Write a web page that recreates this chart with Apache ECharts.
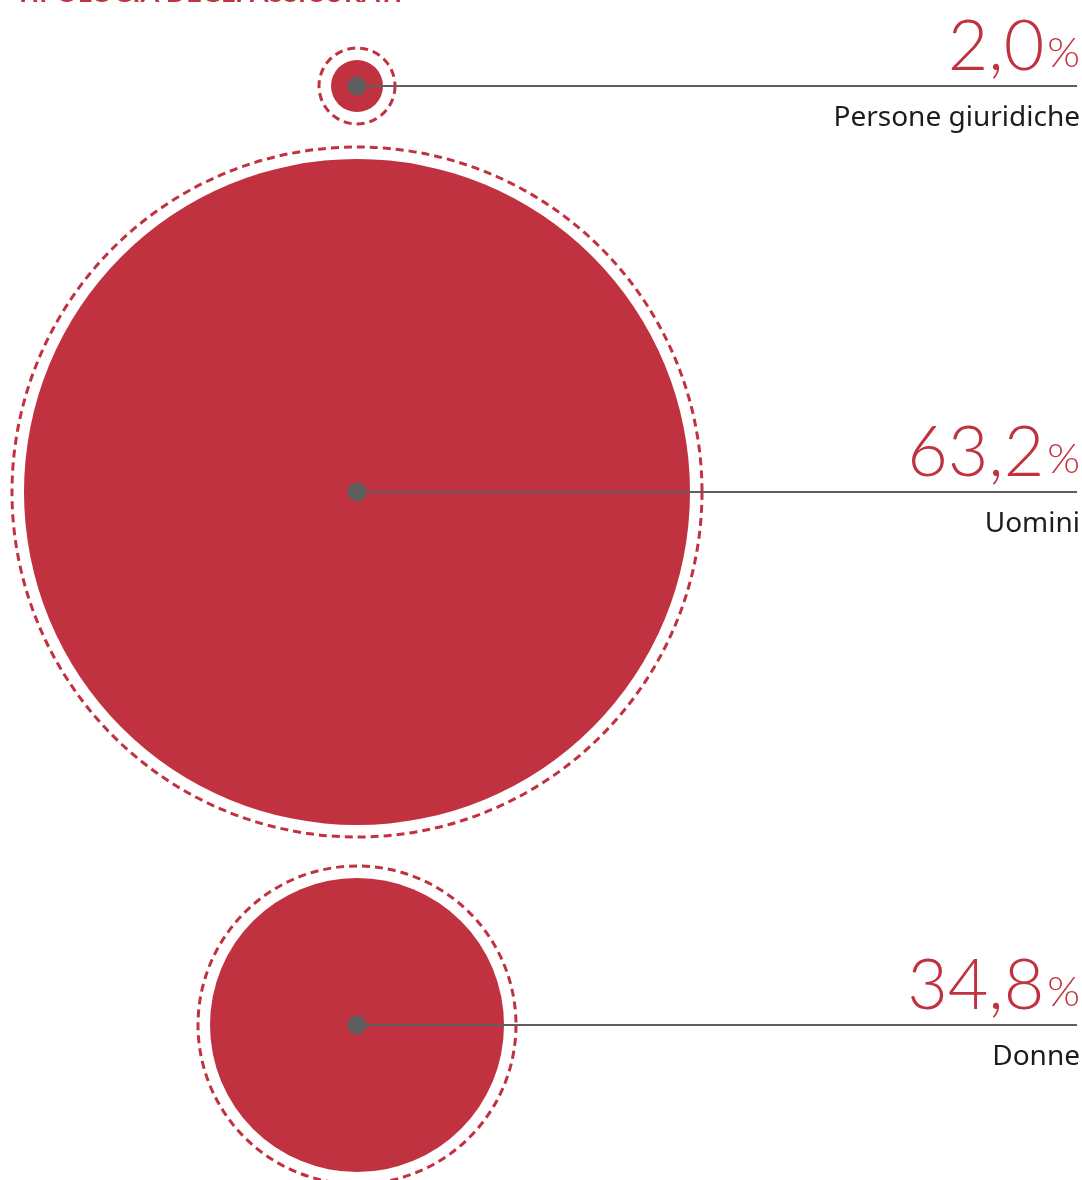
<!DOCTYPE html>
<html><head><meta charset="utf-8">
<script src="https://cdn.jsdelivr.net/npm/echarts@6/dist/echarts.min.js"></script>
<style>html,body{margin:0;padding:0;background:#fff}#c{width:1082px;height:1180px}</style>
</head><body><div id="c"></div>
<script>
// ---- data ----
const categories = ['Persone giuridiche', 'Uomini', 'Donne'];
const values = [2.0, 63.2, 34.8];
const titleText = 'TIPOLOGIA DEGLI ASSICURATI';

// ---- layout (design, not data) ----
const RED = '#C0323F', GREY = '#5f5f5f';
const fillRadius = [26, 333, 147];     // bubble radii as designed
const ringGap = 12;                      // dashed ring offset
const stackGap = [0, 23, 29];            // vertical gaps between rings
const topStart = 48;
const centerX = 357;
const lineEnd = 1077;

const centersY = [];
let cursor = topStart;
fillRadius.forEach((r, i) => {
  cursor += stackGap[i];
  const R = r + ringGap;
  centersY.push(cursor + R);
  cursor += 2 * R;
});

const pts = values.map((v, i) => ({ value: [centerX, centersY[i], v], name: categories[i] }));

const chart = echarts.init(document.getElementById('c'));
chart.setOption({
  animation: false,
  grid: { left: 0, right: 0, top: 0, bottom: 0 },
  xAxis: { type: 'value', min: 0, max: 1082, show: false },
  yAxis: { type: 'value', min: 0, max: 1180, inverse: true, show: false },
  series: [
    { type: 'scatter', silent: true, z: 1,
      data: pts.map((p, i) => ({ value: p.value, symbolSize: 2 * (fillRadius[i] + ringGap) })),
      itemStyle: { color: 'rgba(0,0,0,0)', borderColor: RED, borderWidth: 3, borderType: [8, 5], opacity: 1 } },
    { type: 'scatter', silent: true, z: 2,
      data: pts.map((p, i) => ({ value: p.value, symbolSize: 2 * fillRadius[i] })),
      itemStyle: { color: RED, opacity: 1 } },
    { type: 'lines', coordinateSystem: 'cartesian2d', silent: true, z: 3,
      data: pts.map(p => ({ coords: [[p.value[0], p.value[1]], [lineEnd, p.value[1]]] })),
      lineStyle: { color: GREY, width: 2.2, opacity: 1 } },
    { type: 'scatter', silent: true, z: 4,
      data: pts.map(p => ({ value: p.value })),
      symbolSize: 19, itemStyle: { color: GREY, opacity: 1 } }
  ]
});

const fmt = v => v.toFixed(1).replace('.', ',');
const numFont = '300 70px Lato', pctFont = '300 42px Lato';
const mctx = document.createElement('canvas').getContext('2d');
mctx.font = pctFont;
const pctW = mctx.measureText('%').width;

const graphics = [{
  type: 'text', left: 15, top: -20,
  style: { text: titleText, font: 'bold 27px Lato', fill: RED, y: -1 }
}];
values.forEach((v, i) => {
  const y = chart.convertToPixel({ gridIndex: 0 }, [0, centersY[i]])[1];
  graphics.push({
    type: 'text', x: 1080 - pctW - 3, y: y - 74,
    style: { text: fmt(v), align: 'right', verticalAlign: 'top', font: numFont, fill: RED }
  });
  graphics.push({
    type: 'text', x: 1080, y: y - 54,
    style: { text: '%', align: 'right', verticalAlign: 'top', font: pctFont, fill: RED }
  });
  graphics.push({
    type: 'text', x: 1080, y: y + 32,
    style: { text: categories[i], align: 'right', verticalAlign: 'middle',
      font: '400 28px "Noto Sans"', fill: '#1c1c1c' }
  });
});
chart.setOption({ graphic: graphics });
</script></body></html>
